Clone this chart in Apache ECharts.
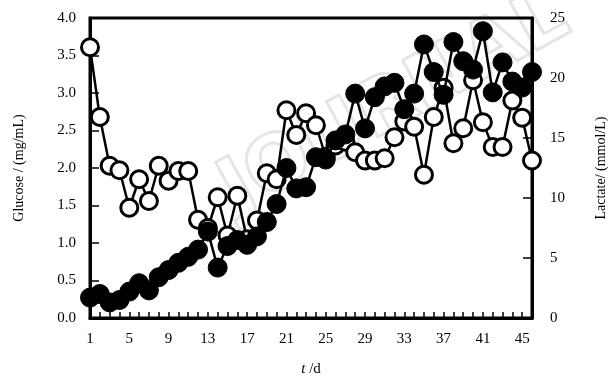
<!DOCTYPE html>
<html>
<head>
<meta charset="utf-8">
<title>Glucose / Lactate</title>
<script src="https://cdn.jsdelivr.net/npm/echarts@6/dist/echarts.min.js"></script>
<style>
  html, body { margin: 0; padding: 0; background: #fff; }
  #chart { width: 616px; height: 383px; }
</style>
</head>
<body>
<div id="chart"></div>
<script>
// 天数 1..46
var days = [];
for (var i = 1; i <= 46; i++) days.push(String(i));

// glucose (mg/mL), open circles, left axis
var glucose = [3.61, 2.68, 2.03, 1.97, 1.47, 1.85, 1.56, 2.03, 1.83, 1.96,
               1.96, 1.31, 1.2, 1.61, 1.1, 1.63, 1.05, 1.3, 1.93, 1.85,
               2.77, 2.44, 2.73, 2.57, 2.15, 2.3, 2.35, 2.21, 2.1, 2.1,
               2.13, 2.41, 2.62, 2.55, 1.91, 2.68, 3.07, 2.33, 2.53, 3.17,
               2.61, 2.28, 2.28, 2.9, 2.67, 2.1];

// lactate (mmol/L), filled circles, right axis
var lactate = [1.7, 2.0, 1.3, 1.5, 2.2, 2.9, 2.3, 3.4, 4.0, 4.6,
               5.1, 5.7, 7.2, 4.2, 6.0, 6.5, 6.1, 6.8, 8.0, 9.5,
               12.5, 10.8, 10.9, 13.4, 13.2, 14.8, 15.3, 18.7, 15.8, 18.4,
               19.3, 19.6, 17.4, 18.7, 22.8, 20.5, 18.6, 23.0, 21.4, 20.7,
               23.9, 18.8, 21.3, 19.7, 19.2, 20.5];

var font = 'Liberation Serif';
var chart = echarts.init(document.getElementById('chart'));

var option = {
  animation: false,
  backgroundColor: '#fff',
  textStyle: { fontFamily: font, color: '#000' },
  graphic: [{
    type: 'text',
    x: 395, y: 105,
    rotation: 0.5,
    silent: true,
    z: 0,
    style: {
      text: 'JOURNAL',
      font: 'bold 76px "DejaVu Sans"',
      align: 'center',
      verticalAlign: 'middle',
      fill: 'rgba(255,255,255,0)',
      stroke: 'rgba(0,0,0,0.1)',
      lineWidth: 3
    }
  }],
  grid: {
    left: 90, right: 76, top: 18, bottom: 65,
    show: true, borderColor: '#000', borderWidth: 3
  },
  xAxis: {
    type: 'category',
    data: days,
    boundaryGap: false,
    name: '{i|t} /d',
    nameLocation: 'middle',
    nameGap: 44,
    nameTextStyle: {
      fontFamily: font, fontSize: 15, color: '#000',
      rich: { i: { fontFamily: font, fontStyle: 'italic', fontSize: 15 } }
    },
    axisLine: { lineStyle: { color: '#000', width: 3 } },
    axisTick: { inside: true, interval: 0, length: 6, lineStyle: { color: '#000', width: 1.5 } },
    axisLabel: { interval: 3, margin: 14, fontFamily: font, fontSize: 15, color: '#000' },
    splitLine: { show: false }
  },
  yAxis: [{
    type: 'value',
    min: 0, max: 4, interval: 0.5,
    name: 'Glucose / (mg/mL)',
    nameLocation: 'middle',
    nameGap: 64,
    nameRotate: 90,
    nameTextStyle: { fontFamily: font, fontSize: 14, color: '#000' },
    axisLine: { show: true, lineStyle: { color: '#000', width: 3 } },
    axisTick: { show: true, inside: true, length: 9, lineStyle: { color: '#000', width: 1.5 } },
    axisLabel: {
      margin: 14, fontFamily: font, fontSize: 15, color: '#000',
      formatter: function (v) { return v.toFixed(1); }
    },
    splitLine: { show: false }
  }, {
    type: 'value',
    min: 0, max: 25, interval: 5,
    position: 'right',
    name: 'Lactate/ (mmol/L)',
    nameLocation: 'middle',
    nameGap: 62,
    nameRotate: 90,
    nameTextStyle: { fontFamily: font, fontSize: 14, color: '#000' },
    axisLine: { show: true, lineStyle: { color: '#000', width: 3 } },
    axisTick: { show: true, inside: true, length: 9, lineStyle: { color: '#000', width: 1.5 } },
    axisLabel: { margin: 18, fontFamily: font, fontSize: 15, color: '#000' },
    splitLine: { show: false }
  }],
  series: [{
    name: 'Glucose',
    type: 'line',
    yAxisIndex: 0,
    data: glucose,
    symbol: 'circle',
    symbolSize: 17,
    showAllSymbol: true,
    lineStyle: { color: '#000', width: 2.5 },
    itemStyle: { color: '#fff', borderColor: '#000', borderWidth: 3 },
    z: 2
  }, {
    name: 'Lactate',
    type: 'line',
    yAxisIndex: 1,
    data: lactate,
    symbol: 'circle',
    symbolSize: 19,
    showAllSymbol: true,
    lineStyle: { color: '#000', width: 2.5 },
    itemStyle: { color: '#000', borderColor: '#000', borderWidth: 1 },
    z: 3
  }]
};

chart.setOption(option);
</script>
</body>
</html>
